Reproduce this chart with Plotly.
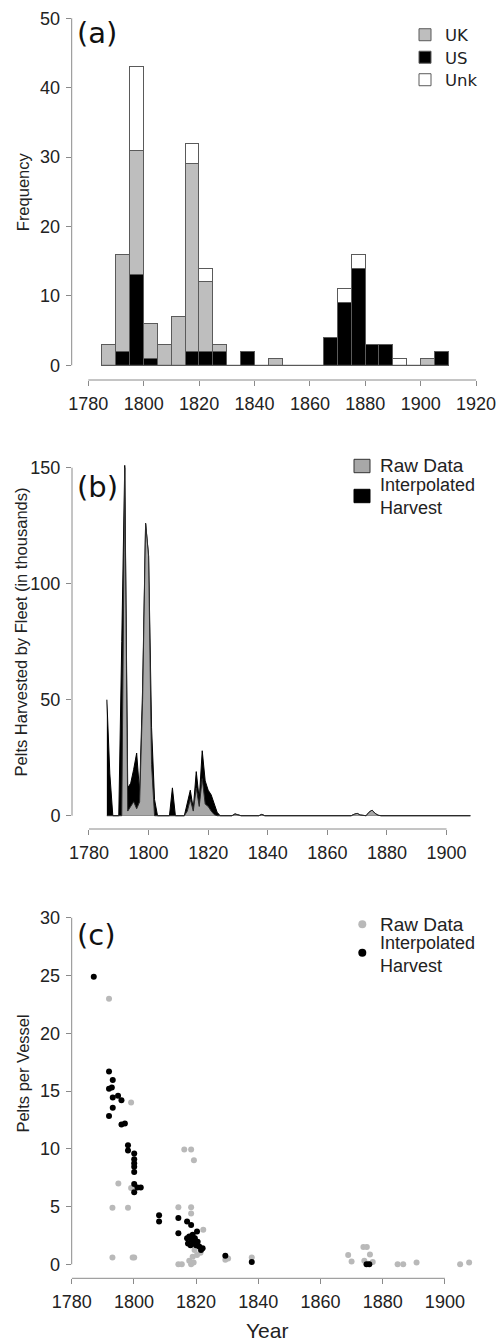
import plotly.graph_objects as go

W, H = 498, 1343

# ---------------- Panel (a): histogram of voyages by flag ----------------
bin_left = [1785, 1790, 1795, 1800, 1805, 1810, 1815, 1820, 1825, 1830, 1835, 1840, 1845,
            1850, 1855, 1860, 1865, 1870, 1875, 1880, 1885, 1890, 1895, 1900, 1905]
us_counts = [0, 2, 13, 1, 0, 0, 2, 2, 2, 0, 2, 0, 0, 0, 0, 0, 4, 9, 14, 3, 3, 0, 0, 0, 2]
uk_counts = [3, 14, 18, 5, 3, 7, 27, 10, 1, 0, 0, 0, 1, 0, 0, 0, 0, 0, 0, 0, 0, 0, 0, 1, 0]
unk_counts = [0, 0, 12, 0, 0, 0, 3, 2, 0, 0, 0, 0, 0, 0, 0, 0, 0, 2, 2, 0, 0, 1, 0, 0, 0]
BIN_WIDTH = 5
a_xticks = [1780, 1800, 1820, 1840, 1860, 1880, 1900, 1920]
a_yticks = [0, 10, 20, 30, 40, 50]

# ---------------- Panel (b): pelts harvested by fleet ----------------
b_years = [1786, 1787, 1788, 1790, 1791, 1792, 1793, 1794, 1795, 1796, 1797, 1798, 1799, 1800,
           1801, 1802, 1803, 1807, 1808, 1809, 1812, 1813, 1814, 1815, 1816, 1817, 1818, 1819,
           1820, 1821, 1822, 1823, 1824, 1828, 1829, 1830, 1831, 1837, 1838, 1839, 1868, 1869,
           1870, 1871, 1873, 1874, 1875, 1876, 1877, 1878, 1890, 1891, 1892, 1908]
b_interp = [50, 18, 0, 0, 75, 151, 12, 14, 20, 27, 10, 55, 126, 112,
            38, 7, 0, 0, 12, 0, 0, 5, 11, 3, 19, 7, 28, 15,
            11, 9, 5, 1.5, 0, 0, 0.8, 0.4, 0, 0, 0.6, 0, 0, 0.6,
            1.0, 0.3, 0, 1.5, 2.4, 1.0, 0.2, 0, 0, 0.2, 0, 0]
b_raw = [0, 0, 0, 0, 0, 150, 2, 4, 6, 3, 6, 50, 126, 112,
         22, 0, 0, 0, 0, 0, 0, 2, 7, 2, 12, 4, 16, 5,
         4, 2, 0.5, 0, 0, 0, 0.7, 0.3, 0, 0, 0.5, 0, 0, 0.6,
         1.0, 0.3, 0, 1.5, 2.4, 1.0, 0.2, 0, 0, 0.2, 0, 0]
b_xticks = [1780, 1800, 1820, 1840, 1860, 1880, 1900]
b_yticks = [0, 50, 100, 150]

# ---------------- Panel (c): pelts per vessel ----------------
c_raw_year = [1792, 1799.1, 1795, 1799.1, 1793.1, 1798.1, 1793.1, 1800.1, 1799.6,
              1816.2, 1818.4, 1819.3, 1814.3, 1818.4, 1818.4, 1822.3, 1814.3, 1815.4,
              1818.4, 1817.8, 1819.2, 1818.9, 1820.3, 1819.5, 1821.4, 1829.4, 1830.3,
              1837.9, 1868.9, 1870.0, 1873.8, 1874.9, 1875.9, 1876.8, 1874.1, 1875.4,
              1884.8, 1886.6, 1890.9, 1904.9, 1907.8]
c_raw_val = [23.0, 14.0, 7.0, 6.6, 4.9, 4.9, 0.6, 0.6, 0.6,
             9.95, 9.95, 9.0, 4.95, 4.95, 4.4, 3.0, 0.0, 0.0,
             0.0, 0.3, 0.15, 0.65, 0.8, 1.25, 1.0, 0.4, 0.5,
             0.6, 0.8, 0.25, 1.5, 1.5, 0.85, 0.2, 0.3, 0.05,
             0.0, 0.0, 0.15, 0.0, 0.15]
c_int_year = [1787.1, 1792.0, 1793.2, 1792.0, 1792.9, 1793.2, 1794.9, 1796.0, 1793.2,
              1792.0, 1796.0, 1797.1, 1798.1, 1798.1, 1800.1, 1800.1, 1800.1, 1800.1,
              1800.1, 1800.1, 1801.1, 1802.2, 1800.1, 1808.1, 1808.1, 1814.3, 1814.3,
              1817.1, 1818.4, 1817.1, 1817.8, 1818.6, 1818.9, 1820.3, 1819.6, 1820.5,
              1817.4, 1819.2, 1821.0, 1821.6, 1822.1, 1818.2, 1820.0, 1829.4, 1837.9,
              1874.8, 1875.7]
c_int_val = [24.9, 16.7, 15.95, 15.2, 15.3, 14.45, 14.6, 14.2, 13.55,
             12.85, 12.1, 12.2, 10.3, 9.85, 9.6, 9.1, 8.75, 8.45,
             8.0, 6.95, 6.65, 6.65, 6.25, 4.25, 3.7, 4.0, 2.7,
             3.7, 3.4, 2.25, 2.4, 2.1, 2.55, 2.85, 2.25, 1.95,
             1.8, 1.8, 1.55, 1.25, 1.4, 1.65, 1.65, 0.75, 0.2,
             0.0, 0.0]
c_xticks = [1780, 1800, 1820, 1840, 1860, 1880, 1900]
c_yticks = [0, 5, 10, 15, 20, 25, 30]

# ---------------- styling ----------------
SANS = "Liberation Sans, Arial, sans-serif"
TICK_FONT = dict(family=SANS, size=18, color="#222222")
AXIS_COL = "#8a8a8a"
UK_COL = "#bebebe"
RAW_B_COL = "#a8a8a8"
RAW_C_COL = "#b9b9b9"


def xdom(left_px, right_px):
    return [left_px / W, right_px / W]


def ydom(top_px, bottom_px):
    return [1 - bottom_px / H, 1 - top_px / H]


def px_x(p):
    return p / W


def px_y(p):
    return 1 - p / H


fig = go.Figure()

bar_line = dict(color="#5a5a5a", width=1)
fig.add_trace(go.Bar(x=bin_left, y=us_counts, width=BIN_WIDTH, offset=0, name="US",
                     marker=dict(color="black", line=bar_line), xaxis="x", yaxis="y",
                     legend="legend2"))
fig.add_trace(go.Bar(x=bin_left, y=uk_counts, width=BIN_WIDTH, offset=0, name="UK",
                     marker=dict(color=UK_COL, line=bar_line), xaxis="x", yaxis="y",
                     legend="legend"))
fig.add_trace(go.Bar(x=bin_left, y=unk_counts, width=BIN_WIDTH, offset=0, name="Unk",
                     marker=dict(color="white", line=bar_line), xaxis="x", yaxis="y",
                     legend="legend3"))

fig.add_trace(go.Scatter(x=b_years, y=b_interp, mode="lines", fill="tozeroy",
                         fillcolor="black", line=dict(color="black", width=1),
                         xaxis="x2", yaxis="y2", showlegend=False, name="Interpolated Harvest"))
fig.add_trace(go.Scatter(x=b_years, y=b_raw, mode="lines", fill="tozeroy",
                         fillcolor=RAW_B_COL, line=dict(color="#2a2a2a", width=1),
                         xaxis="x2", yaxis="y2", showlegend=False, name="Raw Data"))

fig.add_trace(go.Scatter(x=c_raw_year, y=c_raw_val, mode="markers",
                         marker=dict(color=RAW_C_COL, size=6, line=dict(width=0)),
                         xaxis="x3", yaxis="y3", showlegend=False, name="Raw Data"))
fig.add_trace(go.Scatter(x=c_int_year, y=c_int_val, mode="markers",
                         marker=dict(color="black", size=6, line=dict(width=0)),
                         xaxis="x3", yaxis="y3", showlegend=False, name="Interpolated Harvest"))


def ax(domain, rng, anchor, tickvals):
    return dict(domain=domain, range=rng, anchor=anchor, tickvals=tickvals,
                ticks="outside", ticklen=5, tickcolor=AXIS_COL, tickwidth=1,
                showline=False, showgrid=False, zeroline=False, tickfont=TICK_FONT,
                ticklabelstandoff=2, fixedrange=True, automargin=False)


def leg(y_center):
    return dict(x=px_x(405), y=px_y(y_center), xanchor="left", yanchor="middle",
                font=dict(family="DejaVu Sans", size=16.5, color="#222222"),
                bgcolor="rgba(0,0,0,0)", itemwidth=30, borderwidth=0)


layout = dict(
    template="none",
    font=dict(family=SANS, color="#222222"),
    width=W, height=H, autosize=False,
    margin=dict(l=0, r=0, t=0, b=0, pad=0),
    paper_bgcolor="white", plot_bgcolor="white",
    barmode="stack", bargap=0,
    xaxis=ax(xdom(71.7, 492.7), [1774.0, 1926.0], "y", a_xticks),
    yaxis=ax(ydom(3.6, 380.0), [-2.12, 52.12], "x", a_yticks),
    xaxis2=ax(xdom(72.0, 485.3), [1774.3, 1913.0], "y2", b_xticks),
    yaxis2=ax(ydom(454.4, 829.0), [-5.73, 155.73], "x2", b_yticks),
    xaxis3=ax(xdom(71.7, 482.2), [1780.0, 1912.0], "y3", c_xticks),
    yaxis3=ax(ydom(903.8, 1278.3), [-1.21, 31.21], "x3", c_yticks),
    legend=leg(35),
    legend2=leg(57.5),
    legend3=leg(80),
)

shapes = []
for xa, ya, xt, yt in [("x", "y", a_xticks, a_yticks), ("x2", "y2", b_xticks, b_yticks),
                       ("x3", "y3", c_xticks, c_yticks)]:
    shapes.append(dict(type="line", xref=f"{xa} domain", yref=ya, x0=0, x1=0,
                       y0=min(yt), y1=max(yt), line=dict(color=AXIS_COL, width=1)))
    shapes.append(dict(type="line", xref=xa, yref=f"{ya} domain", x0=min(xt), x1=max(xt),
                       y0=0, y1=0, line=dict(color=AXIS_COL, width=1)))
# histogram baseline (zero-height bins drawn as a line, as in R's hist)
shapes.append(dict(type="line", xref="x", yref="y", x0=bin_left[0], x1=bin_left[-1] + BIN_WIDTH,
                   y0=0, y1=0, line=dict(color="#5a5a5a", width=1)))

# manual legends for (b) and (c)
shapes.append(dict(type="rect", xref="paper", yref="paper", x0=px_x(354), x1=px_x(370),
                   y0=px_y(472.7), y1=px_y(459.3), fillcolor=RAW_B_COL,
                   line=dict(color="#333333", width=1)))
shapes.append(dict(type="rect", xref="paper", yref="paper", x0=px_x(354), x1=px_x(370),
                   y0=px_y(502.7), y1=px_y(489.3), fillcolor="black",
                   line=dict(color="black", width=1)))
shapes.append(dict(type="circle", xref="paper", yref="paper", x0=px_x(358.3), x1=px_x(366.3),
                   y0=px_y(928.3), y1=px_y(920.3), fillcolor=RAW_C_COL, line=dict(width=0)))
shapes.append(dict(type="circle", xref="paper", yref="paper", x0=px_x(358.3), x1=px_x(366.3),
                   y0=px_y(956.7), y1=px_y(948.7), fillcolor="black", line=dict(width=0)))

LEG_FONT = dict(family=SANS, size=19, color="#222222")
LEG_FONT2 = dict(family=SANS, size=18, color="#222222")
TITLE_FONT = dict(family=SANS, size=16.5, color="#222222")
PANEL_FONT = dict(family="DejaVu Sans", size=29, color="#111111")


def ann(text, x, y, font, xanchor="left", yanchor="middle", angle=0):
    return dict(text=text, xref="paper", yref="paper", x=px_x(x), y=px_y(y),
                xanchor=xanchor, yanchor=yanchor, showarrow=False, font=font,
                textangle=angle, borderpad=0, align="left")


annotations = [
    ann("(a)", 76, 33, PANEL_FONT),
    ann("(b)", 76, 487.5, PANEL_FONT),
    ann("(c)", 76, 935, PANEL_FONT),
    ann("Frequency", 22.5, 191.7, TITLE_FONT, "center", "middle", -90),
    ann("Pelts Harvested by Fleet (in thousands)", 20.7, 631.7, TITLE_FONT, "center", "middle", -90),
    ann("Pelts per Vessel", 23.3, 1073.3, TITLE_FONT, "center", "middle", -90),
    ann("Year", 266.7, 1330, dict(family=SANS, size=21, color="#222222"), "center", "middle"),
    ann("Raw Data", 379.3, 466, LEG_FONT),
    ann("Interpolated<br>Harvest", 379.3, 496, LEG_FONT2),
    ann("Raw Data", 379.3, 924.3, LEG_FONT),
    ann("Interpolated<br>Harvest", 379.3, 954, LEG_FONT2),
]

layout["shapes"] = shapes
layout["annotations"] = annotations
fig.update_layout(**layout)

fig.write_html("out.html")
